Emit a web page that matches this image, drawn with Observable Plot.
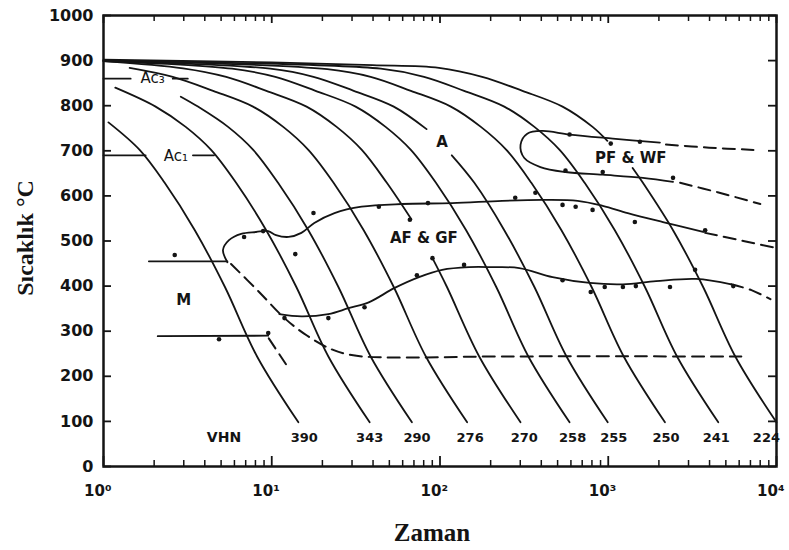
<!DOCTYPE html>
<html>
<head>
<meta charset="utf-8">
<script src="https://cdn.jsdelivr.net/npm/d3@7"></script>
<script src="https://cdn.jsdelivr.net/npm/@observablehq/plot@0.6"></script>
<style>
  html, body { margin: 0; padding: 0; background: #fff; }
  #chart { width: 789px; height: 550px; }
</style>
</head>
<body>
<div id="chart"></div>
<script>
// Continuous cooling curves, [time (s), temperature (°C)], one per hardness value (VHN).
// Curves that pass behind a region label are split into two pieces (a / b).
const c390  = [[1.07,763],[1.64,702],[2.31,629],[3.49,524],[5.27,398],[8.18,244],[14.4,98]];
const c343  = [[1.175,840],[2.04,798],[3.08,753],[4.36,702],[6.14,629],[9.27,524],[14.0,398],[21.7,244],[38.2,98]];
const c290  = [[2.88,820],[3.64,798],[5.50,753],[7.76,702],[10.9,629],[16.5,524],[24.9,398],[38.7,244],[68.1,98]];
const c276  = [[1.43,884],[2.58,864],[4.48,833],[7.74,798],[11.7,753],[16.5,702],[23.3,629],[35.2,524],[53.1,398],[82.4,244],[145,98]];
const c270a = [[1,899],[2.97,883],[5.36,864],[9.29,833],[16.1,798],[24.3,753],[34.3,702],[48.3,629],[67.6,548]];
const c270b = [[90.2,462],[110,398],[171,244],[301,98]];
const c258  = [[1,899],[5.81,882],[10.5,864],[18.2,833],[31.5,798],[47.5,753],[67.1,702],[94.6,629],[143,524],[216,398],[335,244],[589,98]];
const c255a = [[1,899],[9.79,882],[17.7,864],[30.7,833],[53.1,798],[83.2,748]];
const c255b = [[117.5,690],[160,629],[241,524],[364,398],[565,244],[993,98]];
const c250  = [[1,900],[21.4,881],[38.7,864],[67.1,833],[116,798],[175,753],[248,702],[349,629],[527,524],[796,398],[1236,244],[2173,98]];
const c241  = [[1,900],[44.5,882],[80.4,864],[139,833],[241,798],[364,753],[514,702],[724,629],[1094,524],[1652,398],[2564,244],[4508,98]];
const c224a = [[1,902],[10,896],[39.8,890],[98.6,884],[178,864],[309,833],[535,798],[807,753],[988,722]];
const c224b = [[1396,662],[1607,629],[2427,524],[3664,398],[5689,244],[10000,98]];

// Transformation boundaries
const pfBoundary  = [[2028,718],[1064,727],[589,736],[406,744],[330,738],[301,713],[317,684],[395,664],[557,653],[927,647],[1607,640],[2427,631]];
const pfUpperDash = [[2203,714],[3981,707],[7295,702]];
const pfLowerDash = [[2673,629],[4467,608],[8017,582]];
const afUpper     = [[5.45,453],[5.13,480],[5.57,502],[6.58,516],[8.07,520],[9.53,522],[10.6,513],[12.6,509],[15.0,518],[17.9,540],[23.6,562],[34.2,576],[59.3,582],[118,584],[234,589],[406,591],[658,589],[927,578],[1306,562],[2113,542],[3664,520]];
const afUpperDash = [[3767,518],[6353,500],[9772,485]];
const afLower     = [[11.1,338],[15.0,333],[21.7,338],[28.6,351],[37.7,364],[53.8,396],[75.0,420],[103,436],[149,442],[204,442],[296,440],[467,420],[776,407],[1222,404],[1923,411],[3327,416],[5383,404]];
const afLowerDash = [[5383,404],[7096,391],[9204,371]];
const msDash      = [[5.73,449],[8.41,387],[11.9,329],[16.1,291],[22.6,260],[29.8,247],[45.1,242],[234,244],[6180,244]];
const m455        = [[1.86,455],[5.45,455]];
const m290        = [[2.10,289],[9.53,290]];
const m290Dash    = [[9.6,284],[12.6,218]];
const ac3Left  = [[1,860],[1.45,860]];
const ac3Right = [[2.58,860],[3.17,860]];
const ac1Left  = [[1,690],[1.78,690]];
const ac1Right = [[3.40,690],[4.54,690]];

// Measured transformation points
const measured = [[2.65,469],[4.86,282],[9.53,296],[6.85,509],[8.89,522],[13.8,471],[17.7,562],[43.3,576],[84.8,584],[280,596],[369,607],[535,580],[640,576],[807,569],[1439,542],[3767,524],[11.9,329],[21.7,329],[35.6,353],[72.9,424],[139,447],[535,413],[787,387],[953,398],[1222,398],[1459,400],[2328,398],[3281,436],[5534,400],[589,736],[1035,716],[1542,720],[557,656],[927,653],[2427,640],[66.2,547],[90.2,462]];

// Region labels
const regionNames = ["A", "PF & WF", "AF & GF", "M"];
const regionTimes = [102.8, 1361, 80.2, 3.0];
const regionTemps = [718, 684, 507, 369];
const acNames = ["Ac₃", "Ac₁"];
const acTimes = [1.96, 2.69];
const acTemps = [860, 689];

// Hardness (VHN) of each cooling curve, written under its end
const hvValues = ["390","343","290","276","270","258","255","250","241","224"];
const hvTimes  = [15.6, 38.2, 73.0, 151, 317, 614, 1079, 2203, 4385, 8710];
const hvTemp = 64;

// Axis ticks
const yTicks = [0,100,200,300,400,500,600,700,800,900,1000];
const xDecades = [1,10,100,1000,10000];
const xDecadeLabels = ["10⁰","10¹","10²","10³","10⁴"];
const xMinor = [2,3,4,5,6,7,8,9,20,30,40,50,60,70,80,90,200,300,400,500,600,700,800,900,2000,3000,4000,5000,6000,7000,8000,9000];

const rows = (id, pts) => pts.map(([t, T]) => ({id, t, T}));
const cooling = [
  rows("390", c390), rows("343", c343), rows("290", c290), rows("276", c276),
  rows("270a", c270a), rows("270b", c270b), rows("258", c258),
  rows("255a", c255a), rows("255b", c255b), rows("250", c250), rows("241", c241),
  rows("224a", c224a), rows("224b", c224b)
].flat();
const solidBounds = [rows("pf", pfBoundary), rows("afU", afUpper), rows("afL", afLower)].flat();
const dashedBounds = [rows("pfU", pfUpperDash), rows("pfL", pfLowerDash), rows("afUd", afUpperDash),
  rows("afLd", afLowerDash), rows("ms", msDash), rows("m290d", m290Dash)].flat();
const straight = [rows("m455", m455), rows("m290", m290), rows("ac3l", ac3Left), rows("ac3r", ac3Right),
  rows("ac1l", ac1Left), rows("ac1r", ac1Right)].flat();

const regions = regionNames.map((name, i) => ({name, t: regionTimes[i], T: regionTemps[i]}));
const acLabels = acNames.map((name, i) => ({name, t: acTimes[i], T: acTemps[i]}));
const hvLabels = hvValues.map((v, i) => ({v, t: hvTimes[i]}));

const ink = "#141414";
const sans = "DejaVu Sans";
const serif = "Liberation Serif";

const chart = Plot.plot({
  width: 789,
  height: 550,
  marginLeft: 103,
  marginRight: 13,
  marginTop: 15,
  marginBottom: 84,
  x: {type: "log", domain: [1, 10000], axis: null},
  y: {domain: [0, 1000], axis: null},
  style: {fontFamily: sans, background: "#fff", overflow: "visible"},
  marks: [
    Plot.line(cooling, {x: "t", y: "T", z: "id", curve: "catmull-rom", stroke: ink, strokeWidth: 1.8}),
    Plot.line(solidBounds, {x: "t", y: "T", z: "id", curve: "catmull-rom", stroke: ink, strokeWidth: 1.8}),
    Plot.line(dashedBounds, {x: "t", y: "T", z: "id", curve: "catmull-rom", stroke: ink, strokeWidth: 2, strokeDasharray: "12,7"}),
    Plot.line(straight, {x: "t", y: "T", z: "id", stroke: ink, strokeWidth: 1.8}),
    Plot.dot(measured, {x: d => d[0], y: d => d[1], r: 2.3, fill: ink, stroke: null}),

    Plot.text(regions, {x: "t", y: "T", text: "name", fill: ink, fontSize: 15, fontWeight: "bold", textAnchor: "middle"}),
    Plot.text(acLabels, {x: "t", y: "T", text: "name", fill: ink, fontSize: 15, textAnchor: "middle"}),
    Plot.text(hvLabels, {x: "t", y: () => hvTemp, text: "v", fill: ink, fontSize: 13, fontWeight: "bold", textAnchor: "middle"}),
    Plot.text(["VHN"], {x: () => 5.2, y: () => hvTemp, text: d => d, fill: ink, fontSize: 14, fontWeight: "bold", textAnchor: "middle"}),

    // inward ticks on all four sides
    Plot.tickY(yTicks, {y: d => d, insetRight: 665, stroke: ink, strokeWidth: 1.8}),
    Plot.tickY(yTicks, {y: d => d, insetLeft: 665, stroke: ink, strokeWidth: 1.8}),
    Plot.tickX(xMinor, {x: d => d, insetTop: 445, stroke: ink, strokeWidth: 1.5}),
    Plot.tickX(xDecades, {x: d => d, insetTop: 441, stroke: ink, strokeWidth: 1.8}),
    Plot.tickX(xMinor, {x: d => d, insetBottom: 445, stroke: ink, strokeWidth: 1.5}),
    Plot.tickX(xDecades, {x: d => d, insetBottom: 443, stroke: ink, strokeWidth: 1.8}),
    Plot.frame({stroke: ink, strokeWidth: 2.5}),

    // tick labels
    Plot.text(yTicks, {y: d => d, text: d => String(d), frameAnchor: "left", textAnchor: "end", lineAnchor: "middle", dx: -10, fill: ink, fontSize: 16, fontWeight: "bold"}),
    Plot.text(xDecades, {x: d => d, text: (d, i) => xDecadeLabels[i], frameAnchor: "bottom", textAnchor: "end", lineAnchor: "middle", dx: 8, dy: 25, fill: ink, fontSize: 15, fontWeight: "bold"}),

    // axis titles
    Plot.text(["Sıcaklık °C"], {text: d => d, frameAnchor: "left", textAnchor: "middle", lineAnchor: "middle", rotate: -90, dx: -78, dy: -3, fill: ink, fontFamily: serif, fontSize: 24, fontWeight: "bold"}),
    Plot.text(["Zaman"], {text: d => d, frameAnchor: "bottom", textAnchor: "middle", lineAnchor: "middle", dx: -8, dy: 66, fill: ink, fontFamily: serif, fontSize: 25, fontWeight: "bold"})
  ]
});

document.getElementById("chart").appendChild(chart);
</script>
</body>
</html>
